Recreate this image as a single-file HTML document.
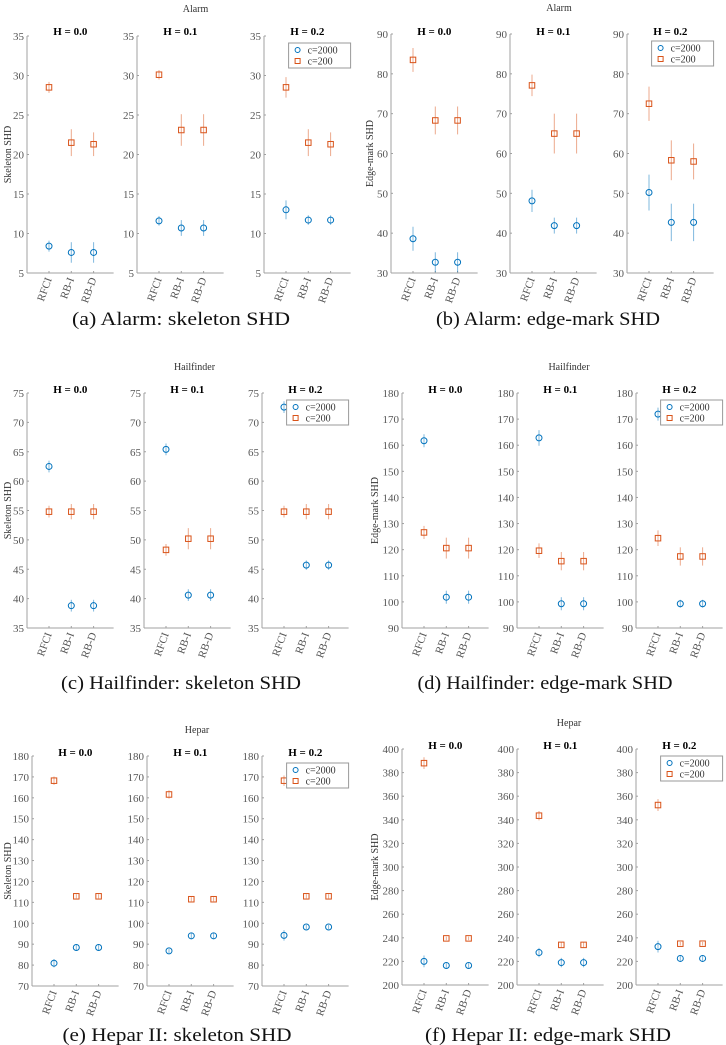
<!DOCTYPE html>
<html><head><meta charset="utf-8"><style>
html,body{margin:0;padding:0;background:#fff}
svg{display:block}
text{font-family:"Liberation Serif",serif}
</style></head><body>
<svg id="fig" width="726" height="1045" viewBox="0 0 726 1045" xmlns="http://www.w3.org/2000/svg"></svg>
<script>
// ---- data (mean / half-error per H level, per category RFCI, RB-I, RB-D) ----
const categories = ["RFCI","RB-I","RB-D"];
const hLevels = ["H = 0.0","H = 0.1","H = 0.2"];
const seriesNames = ["c=2000","c=200"];

const alarmSkelBlue   = [[8.4,7.6,7.6],[11.6,10.7,10.7],[13.0,11.7,11.7]];
const alarmSkelBlueE  = [[0.7,1.3,1.3],[0.6,1.0,1.0],[1.2,0.6,0.6]];
const alarmSkelOrg    = [[28.5,21.5,21.3],[30.1,23.1,23.1],[28.5,21.5,21.3]];
const alarmSkelOrgE   = [[0.7,1.7,1.5],[0.6,2.0,2.0],[1.3,1.7,1.5]];

const alarmEdgeBlue   = [[38.6,32.7,32.7],[48.1,41.9,41.9],[50.2,42.7,42.7]];
const alarmEdgeBlueE  = [[3.0,2.5,2.5],[2.8,2.0,2.0],[4.5,4.7,4.7]];
const alarmEdgeOrg    = [[83.5,68.3,68.3],[77.1,65.0,65.0],[72.5,58.3,58.0]];
const alarmEdgeOrgE   = [[3.0,3.5,3.5],[2.7,5.0,5.0],[4.3,5.0,4.5]];

const hailSkelBlue    = [[62.5,38.8,38.8],[65.4,40.6,40.6],[72.6,45.7,45.7]];
const hailSkelBlueE   = [[1.0,1.0,1.0],[1.0,1.0,1.0],[1.0,0.8,0.8]];
const hailSkelOrg     = [[54.8,54.8,54.8],[48.3,50.2,50.2],[54.8,54.8,54.8]];
const hailSkelOrgE    = [[1.0,1.3,1.3],[1.0,1.8,1.8],[1.0,1.3,1.3]];

const hailEdgeBlue    = [[161.7,101.8,101.8],[162.8,99.3,99.3],[171.9,99.3,99.3]];
const hailEdgeBlueE   = [[2.5,2.5,2.5],[3.0,2.5,2.5],[2.5,1.5,1.5]];
const hailEdgeOrg     = [[126.6,120.6,120.6],[119.6,115.6,115.6],[124.4,117.4,117.4]];
const hailEdgeOrgE    = [[2.5,4.0,4.0],[2.8,3.5,3.5],[3.0,3.5,3.5]];

const heparSkelBlue   = [[80.9,88.4,88.4],[86.8,94.0,94.0],[94.2,98.2,98.2]];
const heparSkelBlueE  = [[2.0,1.5,1.5],[1.0,1.5,1.5],[2.5,1.0,1.0]];
const heparSkelOrg    = [[168.2,112.9,112.9],[161.6,111.5,111.5],[168.2,112.9,112.9]];
const heparSkelOrgE   = [[2.0,1.0,1.0],[2.0,1.0,1.0],[2.5,1.0,1.0]];

const heparEdgeBlue   = [[220.0,216.5,216.5],[227.5,219.0,219.0],[232.5,222.5,222.5]];
const heparEdgeBlueE  = [[5.0,2.0,2.0],[4.0,4.0,4.0],[5.0,2.0,2.0]];
const heparEdgeOrg    = [[388.0,239.5,239.5],[343.5,234.0,234.0],[352.5,235.0,235.0]];
const heparEdgeOrgE   = [[5.0,1.5,1.5],[4.0,2.0,2.0],[5.0,1.5,1.5]];

const ticksA = [5,10,15,20,25,30,35];
const ticksB = [30,40,50,60,70,80,90];
const ticksC = [35,40,45,50,55,60,65,70,75];
const ticksD = [90,100,110,120,130,140,150,160,170,180];
const ticksE = [70,80,90,100,110,120,130,140,150,160,170,180];
const ticksF = [200,220,240,260,280,300,320,340,360,380,400];

// ---- layout ----
const panels = [
 {id:"a",title:"Alarm",ylabel:"Skeleton SHD",caption:"(a) Alarm: skeleton SHD",capX:181,capW:218,capY:325,
  blue:alarmSkelBlue,blueE:alarmSkelBlueE,org:alarmSkelOrg,orgE:alarmSkelOrgE,ticks:ticksA,
  lefts:[27,137,264],top:36,bottom:273,titleY:9,hY:31,ylabX:8},
 {id:"b",title:"Alarm",ylabel:"Edge-mark SHD",caption:"(b) Alarm: edge-mark SHD",capX:548,capW:224,capY:325,
  blue:alarmEdgeBlue,blueE:alarmEdgeBlueE,org:alarmEdgeOrg,orgE:alarmEdgeOrgE,ticks:ticksB,
  lefts:[391,510,627],top:34,bottom:273,titleY:8,hY:31,ylabX:370},
 {id:"c",title:"Hailfinder",ylabel:"Skeleton SHD",caption:"(c) Hailfinder: skeleton SHD",capX:181,capW:240,capY:689,
  blue:hailSkelBlue,blueE:hailSkelBlueE,org:hailSkelOrg,orgE:hailSkelOrgE,ticks:ticksC,
  lefts:[27,144,262],top:393,bottom:628,titleY:367,hY:389,ylabX:8},
 {id:"d",title:"Hailfinder",ylabel:"Edge-mark SHD",caption:"(d) Hailfinder: edge-mark SHD",capX:545,capW:255,capY:689,
  blue:hailEdgeBlue,blueE:hailEdgeBlueE,org:hailEdgeOrg,orgE:hailEdgeOrgE,ticks:ticksD,
  lefts:[402,517,636],top:393,bottom:628,titleY:367,hY:389,ylabX:375},
 {id:"e",title:"Hepar",ylabel:"Skeleton SHD",caption:"(e) Hepar II: skeleton SHD",capX:177,capW:229,capY:1041,
  blue:heparSkelBlue,blueE:heparSkelBlueE,org:heparSkelOrg,orgE:heparSkelOrgE,ticks:ticksE,
  lefts:[32,147,262],top:756,bottom:986,titleY:730,hY:752,ylabX:8},
 {id:"f",title:"Hepar",ylabel:"Edge-mark SHD",caption:"(f) Hepar II: edge-mark SHD",capX:548,capW:246,capY:1041,
  blue:heparEdgeBlue,blueE:heparEdgeBlueE,org:heparEdgeOrg,orgE:heparEdgeOrgE,ticks:ticksF,
  lefts:[402,517,636],top:749,bottom:985,titleY:723,hY:745,ylabX:375}
];
const BLUE="#0072BD", ORG="#D95319", AX="#a0a0a0", TK="#555";
const NS="http://www.w3.org/2000/svg";
const svg=document.getElementById("fig");
function mk(tag,attrs,parent,txt){const e=document.createElementNS(NS,tag);for(const k in attrs)e.setAttribute(k,attrs[k]);if(txt!==undefined)e.textContent=txt;(parent||svg).appendChild(e);return e;}

panels.forEach(p=>{
  const g=mk("g",{});
  
  
  const tmin=p.ticks[0], tmax=p.ticks[p.ticks.length-1];
  const yS=v=>p.bottom-(v-tmin)/(tmax-tmin)*(p.bottom-p.top);
  const midX=(p.lefts[0]+p.lefts[2]+100)/2;
  const st=mk("text",{x:midX,y:p.titleY+3,"font-size":10,"text-anchor":"middle",fill:"#333"},g,p.title);
  
  
  const yl=mk("text",{x:0,y:0,"font-size":10,"text-anchor":"middle",fill:"#333",transform:`translate(${p.ylabX+3},${(p.top+p.bottom)/2}) rotate(-90)`},g,p.ylabel);
  
  
  const cap=mk("text",{x:p.capX,y:p.capY,"font-size":19,"text-anchor":"middle",fill:"#111",textLength:p.capW,lengthAdjust:"spacingAndGlyphs"},g,p.caption);
  
  
  p.lefts.forEach((L,h)=>{
    const sg=mk("g",{},g);
    
    
    const xS=i=>L+22+i*22.3;
    const R=xS(2)+20;
    mk("line",{x1:L,y1:p.top,x2:L,y2:p.bottom,stroke:AX,"stroke-width":1},sg);
    mk("line",{x1:L,y1:p.bottom,x2:R,y2:p.bottom,stroke:AX,"stroke-width":1},sg);
    const ht=mk("text",{x:(L+R)/2,y:p.hY+4,"font-size":11,"font-weight":"bold","text-anchor":"middle",fill:"#000"},sg,hLevels[h]);
    
    
    p.ticks.forEach(t=>{
      const y=yS(t);
      mk("line",{x1:L,y1:y,x2:L+2,y2:y,stroke:AX,"stroke-width":1},sg);
      const tl=mk("text",{x:L-3,y:y+4,"font-size":11,"text-anchor":"end",fill:TK},sg,String(t));
      
      
    });
    categories.forEach((c,i)=>{
      const x=xS(i);
      mk("line",{x1:x,y1:p.bottom,x2:x,y2:p.bottom-2,stroke:AX,"stroke-width":1},sg);
      const cl=mk("text",{x:0,y:0,"font-size":11,"text-anchor":"end",fill:TK,transform:`translate(${x+3},${p.bottom+6}) rotate(-70)`},sg,c);
      
      
    });
    [[p.blue,p.blueE,BLUE,"circle"],[p.org,p.orgE,ORG,"square"]].forEach(([vals,errs,col,shape],si)=>{
      vals[h].forEach((v,i)=>{
        const x=xS(i), y=yS(v), e=errs[h][i];
        const eb=mk("line",{x1:x,y1:yS(v+e),x2:x,y2:yS(v-e),stroke:col,"stroke-width":1,"stroke-opacity":0.5},sg);
        
        
        let m;
        if(shape==="circle") m=mk("circle",{cx:x,cy:y,r:3,fill:"none",stroke:col,"stroke-width":1},sg);
        else m=mk("rect",{x:x-2.75,y:y-2.75,width:5.5,height:5.5,fill:"none",stroke:col,"stroke-width":1},sg);
        
        
      });
    });
    if(h===2){
      const lg=mk("g",{},sg);
      
      
      const lx=R-62, ly=p.top+7;
      mk("rect",{x:lx,y:ly,width:62,height:25,fill:"#fff",stroke:"#999","stroke-width":1},lg);
      mk("circle",{cx:lx+9,cy:ly+7,r:2.5,fill:"none",stroke:BLUE,"stroke-width":1},lg);
      mk("rect",{x:lx+6.5,y:ly+15.5,width:5,height:5,fill:"none",stroke:ORG,"stroke-width":1},lg);
      const t1=mk("text",{x:lx+19,y:ly+10.5,"font-size":10,fill:"#333"},lg,seriesNames[0]);
      
      
      const t2=mk("text",{x:lx+19,y:ly+21.5,"font-size":10,fill:"#333"},lg,seriesNames[1]);
      
      
    }
  });
});
</script>
</body></html>
